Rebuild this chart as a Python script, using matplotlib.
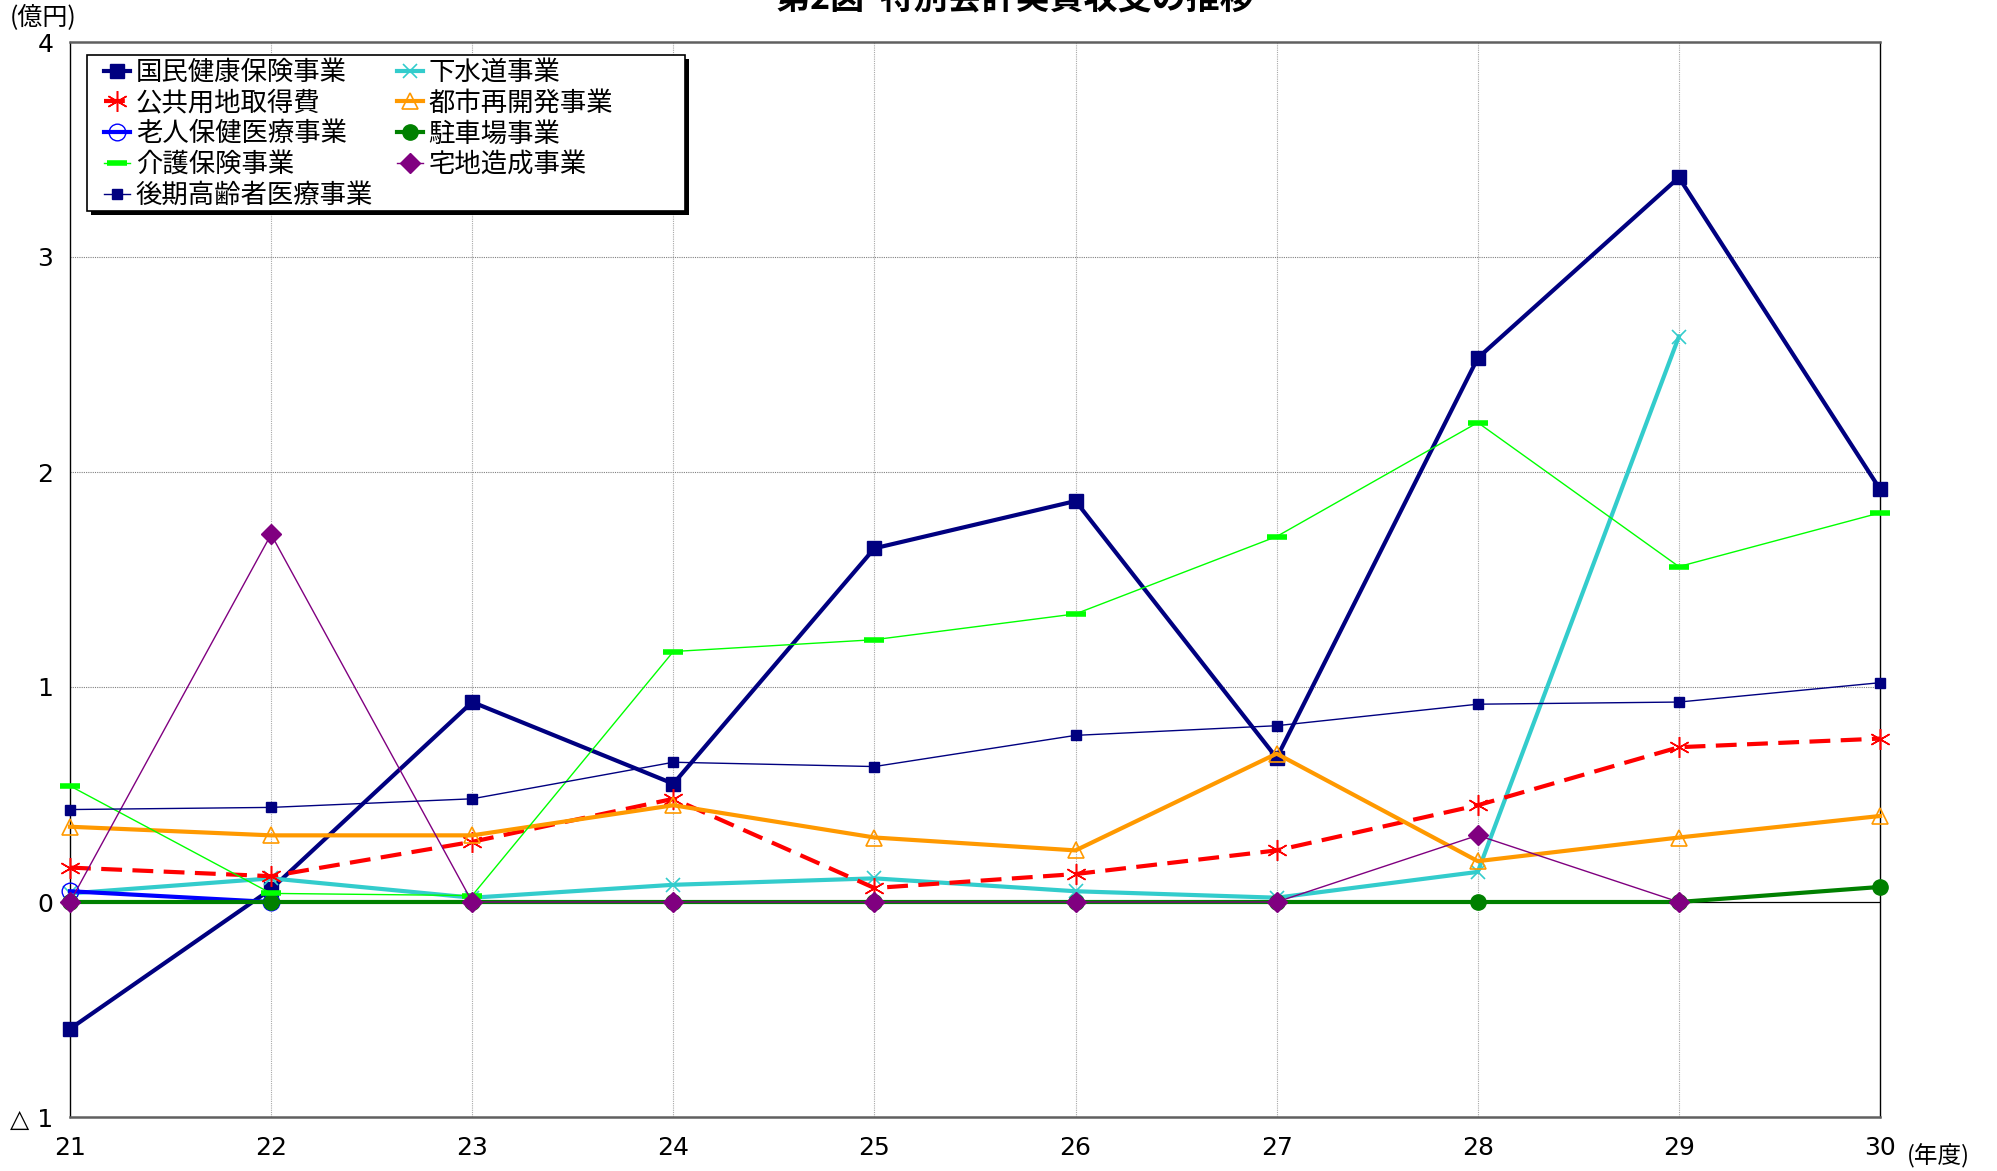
import numpy as np
import matplotlib
matplotlib.use("Agg")
import matplotlib.pyplot as plt
from matplotlib.patches import Rectangle

plt.rcParams['font.family'] = ['Noto Sans CJK JP', 'DejaVu Sans']

# 年度 (平成)
years = [21, 22, 23, 24, 25, 26, 27, 28, 29, 30]
nan = np.nan

# 実質収支 (億円)
kokumin_kenko = [-0.59, 0.06, 0.93, 0.55, 1.645, 1.865, 0.67, 2.53, 3.37, 1.92]
gesuido = [0.04, 0.11, 0.02, 0.08, 0.11, 0.05, 0.02, 0.14, 2.63, nan]
koukyou_youchi = [0.16, 0.12, 0.28, 0.48, 0.065, 0.13, 0.24, 0.45, 0.72, 0.76]
toshi_saikaihatsu = [0.35, 0.31, 0.31, 0.45, 0.30, 0.24, 0.69, 0.19, 0.30, 0.40]
roujin_hoken = [0.05, 0.0, nan, nan, nan, nan, nan, nan, nan, nan]
chushajo = [0.0, 0.0, 0.0, 0.0, 0.0, 0.0, 0.0, 0.0, 0.0, 0.07]
kaigo_hoken = [0.54, 0.04, 0.03, 1.165, 1.22, 1.34, 1.70, 2.23, 1.56, 1.81]
takuchi_zousei = [0.0, 1.71, 0.0, 0.0, 0.0, 0.0, 0.0, 0.31, 0.0, nan]
kouki_koureisha = [0.43, 0.44, 0.48, 0.65, 0.63, 0.775, 0.82, 0.92, 0.93, 1.02]

y_ticks = [-1, 0, 1, 2, 3, 4]
y_tick_labels = ['△ 1', '0', '1', '2', '3', '4']

W, H = 1997, 1171
fig = plt.figure(figsize=(W / 100, H / 100), dpi=100)
ax = fig.add_axes([70 / W, 1 - 1117 / H, 1810 / W, 1075 / H])

ax.set_xlim(21, 30)
ax.set_ylim(-1, 4)

# grid
for x in years[1:-1]:
    ax.axvline(x, color='#a8a8a8', lw=0.8, ls=(0, (1, 1)), zorder=0)
for y in [1, 2, 3]:
    ax.axhline(y, color='#808080', lw=0.8, ls=(0, (1, 1)), zorder=0)
ax.axhline(0, color='black', lw=0.9, zorder=0.5)

handles = {}
common = dict(zorder=3, clip_on=False)
handles['国民健康保険事業'], = ax.plot(years, kokumin_kenko, color='#000080', lw=3, marker='s', ms=10, **common)
handles['下水道事業'], = ax.plot(years, gesuido, color='#33CCCC', lw=3, marker='x', ms=10, mew=1.2, **common)
handles['公共用地取得費'], = ax.plot(years, koukyou_youchi, color='#FF0000', lw=3, dashes=(5, 2.5),
                                 marker=(6, 2, 0), ms=15, mew=1.1, **common)
handles['都市再開発事業'], = ax.plot(years, toshi_saikaihatsu, color='#FF9900', lw=3, marker='^', ms=12,
                                 mfc='none', mew=1.2, **common)
handles['老人保健医療事業'], = ax.plot(years, roujin_hoken, color='#0000FF', lw=3, marker='o', ms=12,
                                  mfc='none', mew=1, **common)
handles['駐車場事業'], = ax.plot(years, chushajo, color='#008000', lw=3, marker='o', ms=11, **common)
handles['介護保険事業'], = ax.plot(years, kaigo_hoken, color='#00FF00', lw=1, marker='_', ms=14, mew=4, **common)
handles['宅地造成事業'], = ax.plot(years, takuchi_zousei, color='#800080', lw=1, marker='D', ms=10, **common)
handles['後期高齢者医療事業'], = ax.plot(years, kouki_koureisha, color='#000080', lw=1, marker='s', ms=7, **common)

# frame
for side in ['left', 'right']:
    ax.spines[side].set_color('black')
    ax.spines[side].set_linewidth(1.0)
for side in ['top', 'bottom']:
    ax.spines[side].set_color('#606060')
    ax.spines[side].set_linewidth(1.8)

ax.set_xticks(years)
ax.set_xticklabels([str(y) for y in years], fontsize=18, family=['DejaVu Sans'])
ax.set_yticks(y_ticks)
ax.set_yticklabels(y_tick_labels, fontsize=18, family=['DejaVu Sans', 'Noto Sans CJK JP'])
ax.tick_params(axis='x', length=0, pad=14)
ax.tick_params(axis='y', length=0, pad=12)

# legend box with shadow (drawn separately so it can be as wide as the original)
lx0, ly0, lx1, ly1 = 87, 55, 685, 211
fig.patches.append(Rectangle((lx0 / W + 4 / W, 1 - ly1 / H - 4 / H), (lx1 - lx0) / W, (ly1 - ly0) / H,
                             transform=fig.transFigure, facecolor='black', edgecolor='none', zorder=4))
fig.patches.append(Rectangle((lx0 / W, 1 - ly1 / H), (lx1 - lx0) / W, (ly1 - ly0) / H,
                             transform=fig.transFigure, facecolor='white', edgecolor='black',
                             lw=1.2, zorder=4.1))

order = ['国民健康保険事業', '公共用地取得費', '老人保健医療事業', '介護保険事業', '後期高齢者医療事業',
         '下水道事業', '都市再開発事業', '駐車場事業', '宅地造成事業']
leg = fig.legend([handles[k] for k in order], order, ncol=2, loc='upper left',
                 bbox_to_anchor=(104 / W, 1 - 59 / H), bbox_transform=fig.transFigure,
                 borderaxespad=0, borderpad=0, fontsize=19, frameon=False,
                 handlelength=1.0, handletextpad=0.2, labelspacing=0.14, columnspacing=0.9)
leg.set_zorder(5)

fig.text(0.508, 1 - 8 / H, '第2図  特別会計実質収支の推移', ha='center', va='baseline',
         fontsize=24.5, fontweight='bold')
fig.text(10 / W, 1 - 18 / H, '(億円)', ha='left', va='center', fontsize=18)
fig.text(1907 / W, 1 - 1156 / H, '(年度)', ha='left', va='center', fontsize=17)

fig.savefig('out.png', dpi=100)
